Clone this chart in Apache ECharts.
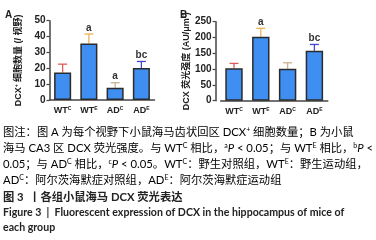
<!DOCTYPE html>
<html>
<head>
<meta charset="utf-8">
<script src="https://cdn.jsdelivr.net/npm/echarts@6/dist/echarts.min.js"></script>
<style>
  html, body { margin: 0; padding: 0; background: #fff; }
  #chart { width: 376px; height: 240px; }
</style>
</head>
<body>
<div id="chart"></div>
<script>
// groups: name|superscript
const groups = ["WT|C", "WT|E", "AD|C", "AD|E"];
// A: DCX+ cells per field
const cellCount = [17.3, 35.6, 7.8, 20.1];
const cellCountTop = [22.6, 41.6, 10.9, 24.3];
const cellMarks = ["", "a", "a", "bc"];
// B: DCX fluorescence intensity (AU/um2)
const intensity = [103, 202, 101, 158];
const intensityTop = [118, 229, 120, 178];
const intensityMarks = ["", "a", "", "bc"];
const errColors = ["#e05a5a", "#f0b25a", "#c9b38f", "#4545d6"];

const chart = echarts.init(document.getElementById("chart"));

const axisFont = "Liberation Sans, Arial, sans-serif";
const capFont = "Lato, Noto Sans CJK SC, sans-serif";

function xLabel(v) {
  const p = v.split("|");
  return "{m|" + p[0] + "}{s|" + p[1] + "}";
}
const xRich = {
  m: { fontSize: 9, fontWeight: "bold", color: "#222", fontFamily: axisFont },
  s: { fontSize: 5, fontWeight: "bold", color: "#222", fontFamily: axisFont, verticalAlign: "top" },
};

function errSeries(idx, tops, vals, marks) {
  return {
    type: "custom",
    xAxisIndex: idx,
    yAxisIndex: idx,
    data: vals.map((v, i) => [i, v, tops[i]]),
    z: 1,
    renderItem(params, api) {
      const i = api.value(0);
      const lo = api.coord([i, api.value(1)]);
      const hi = api.coord([i, api.value(2)]);
      const c = errColors[i];
      return {
        type: "group",
        children: [
          { type: "line", shape: { x1: lo[0], y1: lo[1], x2: hi[0], y2: hi[1] }, style: { stroke: c, lineWidth: 1.3 } },
          { type: "line", shape: { x1: hi[0] - 4.5, y1: hi[1], x2: hi[0] + 4.5, y2: hi[1] }, style: { stroke: c, lineWidth: 1.3 } },
          { type: "text", x: hi[0], y: hi[1] - 6, style: { text: marks[i], fontSize: 10, fontWeight: "bold", fill: "#333", fontFamily: axisFont, align: "center", verticalAlign: "middle" } },
        ],
      };
    },
  };
}

function barSeries(idx, vals) {
  return {
    type: "bar",
    xAxisIndex: idx,
    yAxisIndex: idx,
    data: vals,
    barWidth: "65%",
    z: 2,
    itemStyle: { color: "#3f8ef2", borderColor: "#2b2b2b", borderWidth: 1.5 },
  };
}

const capRich = {
  n: { fontSize: 11.3, color: "#333", fontFamily: capFont },
  i: { fontSize: 11.3, color: "#333", fontFamily: capFont, fontStyle: "italic" },
  s: { fontSize: 7, color: "#333", fontFamily: capFont, verticalAlign: "top" },
};
const capLines = [
  "{n|图注：图 A 为每个视野下小鼠海马齿状回区 DCX}{s|+}{n| 细胞数量；B 为小鼠}",
  "{n|海马 CA3 区 DCX 荧光强度。与 WT}{s|C}{n| 相比，}{s|a}{i|P}{n| < 0.05；与 WT}{s|E}{n| 相比，}{s|b}{i|P}{n| <}",
  "{n|0.05；与 AD}{s|C}{n| 相比，}{s|c}{i|P}{n| < 0.05。WT}{s|C}{n|：野生对照组，WT}{s|E}{n|：野生运动组，}",
  "{n|AD}{s|C}{n|：阿尔茨海默症对照组，AD}{s|E}{n|：阿尔茨海默症运动组}",
];
const capY = [132, 148, 164, 180];

const graphics = [
  { type: "text", left: 5, top: 10, style: { text: "A", fontSize: 10, fontWeight: "bold", fill: "#222", fontFamily: axisFont } },
  { type: "text", left: 180, top: 10, style: { text: "B", fontSize: 10, fontWeight: "bold", fill: "#222", fontFamily: axisFont } },
];
capLines.forEach((t, k) => {
  graphics.push({ type: "text", x: 3, y: capY[k], style: { text: t, rich: capRich, verticalAlign: "middle" } });
});
graphics.push({ type: "text", x: 3, y: 197, style: { text: "图 3  丨各组小鼠海马 DCX 荧光表达", fontSize: 11.3, fontWeight: "bold", fill: "#222", fontFamily: capFont, verticalAlign: "middle" } });
graphics.push({ type: "text", x: 3, y: 213, style: { text: "Figure 3  |  Fluorescent expression of DCX in the hippocampus of mice of", fontSize: 10.6, fontWeight: "bold", fill: "#222", fontFamily: capFont, verticalAlign: "middle" } });
graphics.push({ type: "text", x: 3, y: 228, style: { text: "each group", fontSize: 10.6, fontWeight: "bold", fill: "#222", fontFamily: capFont, verticalAlign: "middle" } });

function yAxis(idx, max, interval, name, offset, gap) {
  return {
    gridIndex: idx,
    type: "value",
    min: 0,
    max: max,
    interval: interval,
    offset: offset,
    name: name,
    nameLocation: "middle",
    nameGap: gap,
    nameTextStyle: {
      rich: {
        m: { fontSize: 9, fontWeight: "bold", color: "#222", fontFamily: "Liberation Sans, Noto Sans CJK SC, sans-serif" },
        s: { fontSize: 5, fontWeight: "bold", color: "#222", fontFamily: axisFont, verticalAlign: "top" },
      },
    },
    axisLine: { show: true, lineStyle: { color: "#444", width: 1.5 } },
    axisTick: { show: true, length: 3, lineStyle: { color: "#444", width: 1.2 } },
    splitLine: { show: false },
    axisLabel: { fontSize: 10, fontWeight: "bold", color: "#222", fontFamily: axisFont, margin: 4 },
  };
}

function xAxis(idx) {
  return {
    gridIndex: idx,
    type: "category",
    data: groups,
    axisLine: { lineStyle: { color: "#444", width: 1.5 } },
    axisTick: { alignWithLabel: true, length: 3, lineStyle: { color: "#444", width: 1 } },
    axisLabel: { formatter: xLabel, rich: xRich, margin: 6, interval: 0 },
  };
}

chart.setOption({
  backgroundColor: "#fff",
  animation: false,
  grid: [
    { left: 49.5, top: 20.7, width: 105, height: 79.3 },
    { left: 220.6, top: 21.7, width: 107.2, height: 79 },
  ],
  xAxis: [xAxis(0), xAxis(1)],
  yAxis: [
    yAxis(0, 50, 10, "{m|DCX}{s|+}{m| 细胞数量 (/ 视野)}", 0, 26),
    yAxis(1, 250, 50, "{m|DCX 荧光强度 (AU/μm²)}", 5, 24),
  ],
  series: [
    barSeries(0, cellCount),
    errSeries(0, cellCountTop, cellCount, cellMarks),
    barSeries(1, intensity),
    errSeries(1, intensityTop, intensity, intensityMarks),
  ],
  graphic: graphics,
});
</script>
</body>
</html>
